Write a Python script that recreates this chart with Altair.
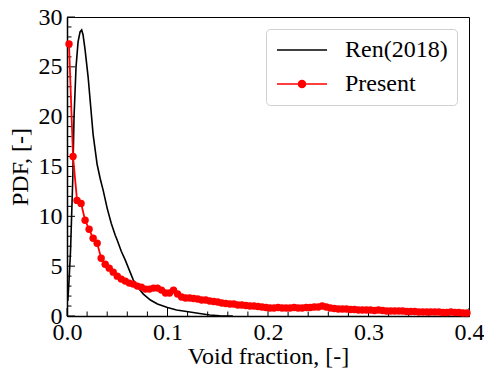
import altair as alt
import pandas as pd

# ---- data ----
ren_x = [0.0008, 0.002, 0.0035, 0.0057, 0.007, 0.009, 0.011, 0.013, 0.0146, 0.016,
         0.018, 0.021, 0.026, 0.030, 0.033, 0.036, 0.040, 0.044, 0.048, 0.050,
         0.054, 0.058, 0.062, 0.066, 0.071, 0.076, 0.083, 0.090, 0.100, 0.109,
         0.119, 0.132, 0.142, 0.152, 0.165]
ren_y = [1.5, 3.5, 6.5, 13.6, 20.0, 25.0, 27.5, 28.5, 28.7, 28.2,
         26.7, 24.0, 18.2, 15.2, 13.8, 12.6, 10.8, 9.3, 8.1, 7.6,
         6.5, 5.6, 4.6, 3.6, 2.8, 2.2, 1.6, 1.2, 0.85, 0.6,
         0.45, 0.25, 0.1, 0.03, 0.0]

present_x = [0.002, 0.006, 0.010, 0.014, 0.018, 0.022, 0.026, 0.030, 0.034, 0.038,
             0.042, 0.046, 0.050, 0.054, 0.058, 0.062, 0.066, 0.070, 0.074, 0.078,
             0.082, 0.086, 0.090, 0.094, 0.098, 0.102, 0.106, 0.110, 0.114, 0.118,
             0.122, 0.126, 0.130, 0.134, 0.138, 0.142, 0.146, 0.150, 0.154, 0.158,
             0.162, 0.166, 0.170, 0.174, 0.178, 0.182, 0.186, 0.190, 0.194, 0.198,
             0.202, 0.206, 0.210, 0.214, 0.218, 0.222, 0.226, 0.230, 0.234, 0.238,
             0.242, 0.246, 0.250, 0.254, 0.258, 0.262, 0.266, 0.270, 0.274, 0.278,
             0.282, 0.286, 0.290, 0.294, 0.298, 0.302, 0.306, 0.310, 0.314, 0.318,
             0.322, 0.326, 0.330, 0.334, 0.338, 0.342, 0.346, 0.350, 0.354, 0.358,
             0.362, 0.366, 0.370, 0.374, 0.378, 0.382, 0.386, 0.390, 0.394, 0.398]
present_y = [27.3, 16.0, 11.6, 11.3, 9.6, 8.7, 7.8, 7.3, 5.8, 5.2,
             4.8, 4.4, 4.0, 3.7, 3.5, 3.3, 3.2, 3.0, 2.9, 2.7,
             2.7, 2.8, 2.8, 2.6, 2.3, 2.3, 2.6, 2.2, 1.9, 1.8,
             1.8, 1.75, 1.7, 1.6, 1.6, 1.5, 1.45, 1.4, 1.3, 1.25,
             1.2, 1.2, 1.1, 1.1, 1.05, 1.0, 1.0, 0.95, 0.9, 0.85,
             0.8, 0.8, 0.85, 0.8, 0.8, 0.8, 0.85, 0.8, 0.8, 0.85,
             0.85, 0.9, 0.9, 1.0, 0.9, 0.8, 0.75, 0.7, 0.7, 0.7,
             0.65, 0.65, 0.6, 0.6, 0.6, 0.6, 0.55, 0.6, 0.55, 0.5,
             0.5, 0.5, 0.5, 0.5, 0.45, 0.45, 0.45, 0.4, 0.4, 0.4,
             0.4, 0.4, 0.4, 0.35, 0.35, 0.4, 0.35, 0.35, 0.3, 0.3]

series_names = ["Ren(2018)", "Present"]
series_colors = ["black", "red"]

x_major = [0.0, 0.1, 0.2, 0.3, 0.4]
x_minor = [0.02, 0.04, 0.06, 0.08, 0.12, 0.14, 0.16, 0.18, 0.22, 0.24, 0.26, 0.28,
           0.32, 0.34, 0.36, 0.38]
y_major = [0, 5, 10, 15, 20, 25, 30]
y_minor = [1, 2, 3, 4, 6, 7, 8, 9, 11, 12, 13, 14, 16, 17, 18, 19, 21, 22, 23, 24,
           26, 27, 28, 29]

# ---- tables ----
ren_df = pd.DataFrame({"x": ren_x, "y": ren_y})
pres_df = pd.DataFrame({"x": present_x, "y": present_y})
legend_df = pd.DataFrame({"series": series_names})

W, H = 402, 299
FONT = "Liberation Serif, Times New Roman, serif"

xscale = alt.Scale(domain=[0, 0.4], nice=False, zero=False)
yscale = alt.Scale(domain=[0, 30], nice=False, zero=False)

xaxis = alt.Axis(values=x_major, format=".1f", ticks=False, grid=False,
                 labelFont=FONT, labelFontSize=24, labelColor="black", labelPadding=4,
                 title="Void fraction, [-]", titleFont=FONT, titleFontSize=24,
                 titleFontWeight="normal", titleColor="black", titlePadding=0,
                 domainColor="black", domainWidth=1.5, labelFlush=False)
yaxis = alt.Axis(values=y_major, format="d", ticks=False, grid=False,
                 labelFont=FONT, labelFontSize=24, labelColor="black", labelPadding=5,
                 title="PDF, [-]", titleFont=FONT, titleFontSize=24,
                 titleFontWeight="normal", titleColor="black", titlePadding=6,
                 domainColor="black", domainWidth=1.5, labelFlush=False)


def X(f):
    return alt.X(f, type="quantitative", scale=xscale, axis=xaxis)


def Y(f):
    return alt.Y(f, type="quantitative", scale=yscale, axis=yaxis)


ren_line = alt.Chart(ren_df).mark_line(strokeWidth=1.6, color="black").encode(
    x=X("x"), y=Y("y"))
pres_line = alt.Chart(pres_df).mark_line(strokeWidth=1.8, color="red").encode(
    x=X("x"), y=Y("y"))
pres_pts = alt.Chart(pres_df).mark_circle(size=55, opacity=1, color="red").encode(
    x=X("x"), y=Y("y"))

# legend symbols: a line, and a line with a dot (concentric rings fill the dot)
dot = ("M1.15,0A0.35,0.35,0,1,0,1.85,0A0.35,0.35,0,1,0,1.15,0"
       "M1.25,0A0.25,0.25,0,1,0,1.75,0A0.25,0.25,0,1,0,1.25,0"
       "M1.35,0A0.15,0.15,0,1,0,1.65,0A0.15,0.15,0,1,0,1.35,0"
       "M1.45,0A0.05,0.05,0,1,0,1.55,0A0.05,0.05,0,1,0,1.45,0")
legend_paths = ["M-1,0H4", "M-1,0H4" + dot]

leg = alt.Legend(title=None, orient="top-right", offset=12, padding=9,
                 fillColor="white", strokeColor="#d0d0d0", cornerRadius=4,
                 labelFont=FONT, labelFontSize=24, labelColor="black", labelLimit=0,
                 labelOffset=46, rowPadding=10, symbolSize=400, symbolStrokeWidth=1.5,
                 symbolOpacity=1, symbolFillColor="transparent")

legend_layer = alt.Chart(legend_df).mark_point(size=400, strokeWidth=1.5, filled=False,
                                               opacity=1).encode(
    x=alt.value(-500), y=alt.value(-500),
    color=alt.Color("series:N", scale=alt.Scale(domain=series_names, range=series_colors),
                    legend=leg, sort=series_names),
    shape=alt.Shape("series:N", scale=alt.Scale(domain=series_names, range=legend_paths),
                    legend=leg, sort=series_names),
)

# inward ticks
xmaj_df = pd.DataFrame({"v": x_major})
xmin_df = pd.DataFrame({"v": x_minor})
ymaj_df = pd.DataFrame({"v": y_major})
ymin_df = pd.DataFrame({"v": y_minor})

xt_major = alt.Chart(xmaj_df).mark_rule(color="black", strokeWidth=1).encode(
    x=X("v"), y=alt.value(H), y2=alt.value(H - 8))
xt_minor = alt.Chart(xmin_df).mark_rule(color="black", strokeWidth=1).encode(
    x=X("v"), y=alt.value(H), y2=alt.value(H - 4.5))
yt_major = alt.Chart(ymaj_df).mark_rule(color="black", strokeWidth=1).encode(
    y=Y("v"), x=alt.value(0), x2=alt.value(8))
yt_minor = alt.Chart(ymin_df).mark_rule(color="black", strokeWidth=1).encode(
    y=Y("v"), x=alt.value(0), x2=alt.value(4.5))

chart = alt.layer(
    xt_minor, xt_major, yt_minor, yt_major, ren_line, pres_line, pres_pts, legend_layer
).properties(
    width=W, height=H,
    autosize=alt.AutoSizeParams(type="none"),
    padding={"left": 67, "top": 17, "right": 15, "bottom": 53},
    background="white",
).configure_view(
    stroke="black", strokeWidth=1
)

chart.save("out.html", embed_options={"renderer": "svg", "actions": False})
